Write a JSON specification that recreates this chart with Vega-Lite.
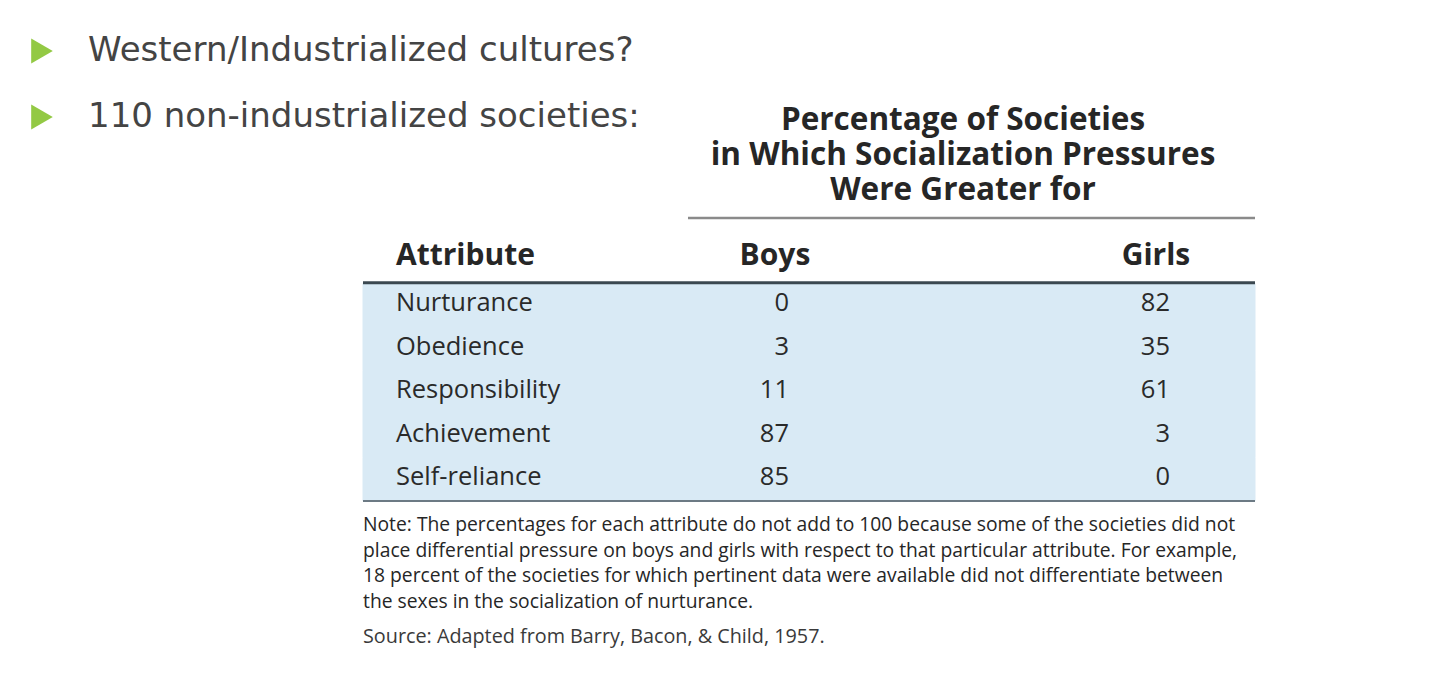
{
  "$schema": "https://vega.github.io/schema/vega-lite/v6.json",
  "width": 1440,
  "height": 696,
  "padding": 0,
  "autosize": {"type": "none"},
  "background": "#ffffff",
  "config": {"view": {"stroke": null}, "axis": {"disable": true}, "legend": {"disable": true}},
  "datasets": {
    "bullets": [
      {"item": "Western/Industrialized cultures?"},
      {"item": "110 non-industrialized societies:"}
    ],
    "heading": [
      {"heading": "Percentage of Societies\nin Which Socialization Pressures\nWere Greater for"}
    ],
    "columns": [
      {"column": "Attribute"},
      {"column": "Boys"},
      {"column": "Girls"}
    ],
    "table": [
      {"Attribute": "Nurturance", "Boys": 0, "Girls": 82},
      {"Attribute": "Obedience", "Boys": 3, "Girls": 35},
      {"Attribute": "Responsibility", "Boys": 11, "Girls": 61},
      {"Attribute": "Achievement", "Boys": 87, "Girls": 3},
      {"Attribute": "Self-reliance", "Boys": 85, "Girls": 0}
    ],
    "notes": [
      {"note": "Note: The percentages for each attribute do not add to 100 because some of the societies did not"},
      {"note": "place differential pressure on boys and girls with respect to that particular attribute. For example,"},
      {"note": "18 percent of the societies for which pertinent data were available did not differentiate between"},
      {"note": "the sexes in the socialization of nurturance."}
    ],
    "source": [
      {"source": "Source: Adapted from Barry, Bacon, & Child, 1957."}
    ]
  },
  "layer": [
    {
      "data": {"name": "bullets"},
      "encoding": {
        "y": {"field": "item", "type": "nominal", "sort": null, "scale": {"type": "point", "range": [51, 117], "padding": 0}}
      },
      "layer": [
        {
          "mark": {"type": "point", "shape": "triangle-right", "filled": true, "color": "#93c944", "opacity": 1, "size": 620},
          "encoding": {
            "x": {"datum": "marker", "type": "nominal", "scale": {"type": "point", "domain": ["marker", "text"], "range": [42, 88], "padding": 0}}
          }
        },
        {
          "mark": {"type": "text", "align": "left", "baseline": "middle", "font": "DejaVu Sans", "fontSize": 34, "color": "#444444"},
          "encoding": {
            "x": {"datum": "text", "type": "nominal"},
            "text": {"field": "item"}
          }
        }
      ]
    },
    {
      "layer": [
        {
          "layer": [
            {
              "data": {"name": "table"},
              "mark": {"type": "rect", "fill": "#d9eaf5", "stroke": "#d9eaf5", "strokeWidth": 1},
              "encoding": {
                "x": {"datum": "Attribute", "type": "nominal", "bandPosition": 0.6588, "scale": {"type": "band", "domain": ["Attribute", "Boys", "Girls"], "range": [112, 1255], "paddingInner": 0, "paddingOuter": 0}},
                "x2": {"datum": "Girls", "bandPosition": 1},
                "y": {"field": "Attribute", "type": "nominal", "scale": {"type": "band", "domain": ["header", "Nurturance", "Obedience", "Responsibility", "Achievement", "Self-reliance"], "range": [240, 501], "paddingInner": 0, "paddingOuter": 0}}
              }
            },
            {
              "data": {"name": "table"},
              "transform": [{"filter": "datum.Attribute === 'Nurturance'"}],
              "mark": {"type": "rule", "color": "#3b4850", "strokeWidth": 3},
              "encoding": {
                "x": {"datum": "Attribute", "type": "nominal", "bandPosition": 0.6588},
                "x2": {"datum": "Girls", "bandPosition": 1},
                "y": {"field": "Attribute", "type": "nominal", "bandPosition": -0.02}
              }
            },
            {
              "data": {"name": "table"},
              "transform": [{"filter": "datum.Attribute === 'Self-reliance'"}],
              "mark": {"type": "rule", "color": "#6c7a84", "strokeWidth": 2},
              "encoding": {
                "x": {"datum": "Attribute", "type": "nominal", "bandPosition": 0.6588},
                "x2": {"datum": "Girls", "bandPosition": 1},
                "y": {"field": "Attribute", "type": "nominal", "bandPosition": 1}
              }
            },
            {
              "data": {"name": "columns"},
              "transform": [{"filter": "datum.column === 'Boys'"}],
              "mark": {"type": "rule", "color": "#8a8a8a", "strokeWidth": 2.5},
              "encoding": {
                "x": {"field": "column", "type": "nominal", "bandPosition": 0.5118},
                "x2": {"datum": "Girls", "bandPosition": 1},
                "y": {"datum": "header", "type": "nominal", "bandPosition": -0.506}
              }
            },
            {
              "data": {"name": "heading"},
              "mark": {"type": "text", "align": "center", "baseline": "middle", "font": "Open Sans", "fontWeight": "bold", "fontSize": 31.5, "lineHeight": 35, "lineBreak": "\n", "color": "#262626"},
              "encoding": {
                "x": {"datum": "Girls", "type": "nominal", "bandPosition": 0.2336},
                "y": {"datum": "header", "type": "nominal", "bandPosition": -2.74},
                "text": {"field": "heading"}
              }
            },
            {
              "data": {"name": "columns"},
              "transform": [{"filter": "datum.column === 'Attribute'"}],
              "mark": {"type": "text", "align": "left", "baseline": "middle", "font": "Open Sans", "fontWeight": "bold", "fontSize": 30, "color": "#262626"},
              "encoding": {
                "x": {"field": "column", "type": "nominal", "bandPosition": 0.7454},
                "y": {"datum": "header", "type": "nominal", "bandPosition": 0.36},
                "text": {"field": "column"}
              }
            },
            {
              "data": {"name": "columns"},
              "transform": [{"filter": "datum.column !== 'Attribute'"}],
              "mark": {"type": "text", "align": "center", "baseline": "middle", "font": "Open Sans", "fontWeight": "bold", "fontSize": 30, "color": "#262626"},
              "encoding": {
                "x": {"field": "column", "type": "nominal", "bandPosition": 0.74},
                "y": {"datum": "header", "type": "nominal", "bandPosition": 0.36},
                "text": {"field": "column"}
              }
            },
            {
              "data": {"name": "table"},
              "mark": {"type": "text", "align": "left", "baseline": "middle", "font": "Open Sans", "fontSize": 25.5, "color": "#2a2a2a"},
              "encoding": {
                "x": {"datum": "Attribute", "type": "nominal", "bandPosition": 0.7454},
                "y": {"field": "Attribute", "type": "nominal", "bandPosition": 0.45},
                "text": {"field": "Attribute"}
              }
            },
            {
              "data": {"name": "table"},
              "transform": [{"fold": ["Boys", "Girls"], "as": ["column", "pct"]}],
              "mark": {"type": "text", "align": "right", "baseline": "middle", "font": "Open Sans", "fontSize": 25.5, "color": "#2a2a2a"},
              "encoding": {
                "x": {"field": "column", "type": "nominal", "bandPosition": 0.777},
                "y": {"field": "Attribute", "type": "nominal", "bandPosition": 0.45},
                "text": {"field": "pct", "type": "quantitative"}
              }
            }
          ]
        },
        {
          "data": {"name": "notes"},
          "mark": {"type": "text", "align": "left", "baseline": "middle", "font": "Open Sans", "fontSize": 19.3, "color": "#262626"},
          "encoding": {
            "x": {"datum": "Attribute", "type": "nominal", "bandPosition": 0.6588},
            "y": {"field": "note", "type": "nominal", "sort": null, "scale": {"type": "point", "range": [525, 602], "padding": 0}},
            "text": {"field": "note"}
          }
        },
        {
          "data": {"name": "source"},
          "mark": {"type": "text", "align": "left", "baseline": "middle", "font": "Open Sans", "fontSize": 19.8, "color": "#3a3a3a"},
          "encoding": {
            "x": {"datum": "Attribute", "type": "nominal", "bandPosition": 0.6588},
            "y": {"field": "source", "type": "nominal", "scale": {"type": "point", "range": [637, 637], "padding": 0}},
            "text": {"field": "source"}
          }
        }
      ],
      "resolve": {"scale": {"y": "independent"}}
    }
  ],
  "resolve": {"scale": {"x": "independent", "y": "independent"}}
}
